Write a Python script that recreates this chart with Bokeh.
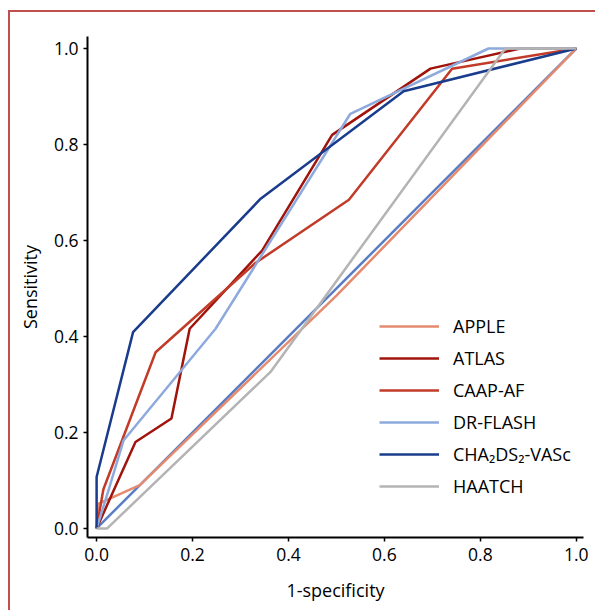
from bokeh.plotting import figure
from bokeh.models import Range1d, FixedTicker, Legend, LegendItem
from bokeh.embed import file_html
from bokeh.resources import INLINE

# ---- data ----
ref_x = [0.0, 1.0]
ref_y = [0.0, 1.0]

apple_x = [0.0, 0.003, 0.09, 0.50, 1.0]
apple_y = [0.0, 0.051, 0.09, 0.485, 1.0]

atlas_x = [0.0, 0.081, 0.156, 0.194, 0.345, 0.491, 0.696, 0.883, 1.0]
atlas_y = [0.0, 0.180, 0.229, 0.416, 0.579, 0.820, 0.958, 1.0, 1.0]

caap_x = [0.0, 0.014, 0.123, 0.331, 0.526, 0.741, 1.0]
caap_y = [0.0, 0.081, 0.367, 0.553, 0.685, 0.958, 1.0]

drflash_x = [0.0, 0.025, 0.056, 0.248, 0.529, 0.817, 1.0]
drflash_y = [0.0, 0.080, 0.183, 0.416, 0.864, 1.0, 1.0]

cha_x = [0.0, 0.0, 0.076, 0.342, 0.640, 1.0]
cha_y = [0.0, 0.107, 0.409, 0.687, 0.911, 1.0]

haatch_x = [0.0, 0.022, 0.3625, 0.852, 1.0]
haatch_y = [0.0, 0.0, 0.326, 1.0, 1.0]

tick_vals = [0.0, 0.2, 0.4, 0.6, 0.8, 1.0]
tick_labels = ["0.0", "0.2", "0.4", "0.6", "0.8", "1.0"]

series_names = ["APPLE", "ATLAS", "CAAP-AF", "DR-FLASH", "CHA\u2082DS\u2082-VASc", "HAATCH"]
series_colors = ["#e58a6f", "#a0140c", "#c23b28", "#8eaadc", "#1a3c8c", "#b4b4b4"]
series_x = [apple_x, atlas_x, caap_x, drflash_x, cha_x, haatch_x]
series_y = [apple_y, atlas_y, caap_y, drflash_y, cha_y, haatch_y]

FONT = "Open Sans"

p = figure(width=587, height=600, output_backend="svg", toolbar_location=None,
           x_range=Range1d(-0.019, 1.015), y_range=Range1d(-0.019, 1.025),
           min_border_left=77, min_border_right=14, min_border_top=24, min_border_bottom=75)

p.styles = {"border-left": "2px solid #c0504d", "border-top": "2px solid #c0504d",
            "margin-top": "10px", "margin-left": "8px"}

p.outline_line_color = None
p.xgrid.grid_line_color = None
p.ygrid.grid_line_color = None
p.background_fill_color = "white"
p.border_fill_color = "white"

for ax in (p.xaxis[0], p.yaxis[0]):
    ax.ticker = FixedTicker(ticks=tick_vals)
    ax.major_label_overrides = {v: l for v, l in zip(tick_vals, tick_labels)}
    ax.minor_tick_line_color = None
    ax.major_tick_in = 0
    ax.major_tick_out = 4
    ax.major_tick_line_width = 1.5
    ax.axis_line_width = 2
    ax.axis_line_color = "black"
    ax.major_tick_line_color = "black"
    ax.major_label_text_font = FONT
    ax.major_label_text_font_size = "17.5px"
    ax.major_label_text_color = "black"
    ax.axis_label_text_font = FONT
    ax.axis_label_text_font_size = "18px"
    ax.axis_label_text_font_style = "normal"
    ax.axis_label_text_color = "black"

p.xaxis.axis_label = "1-specificity"
p.yaxis.axis_label = "Sensitivity"
p.xaxis.major_label_standoff = 6
p.yaxis.major_label_standoff = 5
p.xaxis.axis_label_standoff = 14
p.yaxis.axis_label_standoff = 9

p.line(ref_x, ref_y, line_color="#5a7dc3", line_width=2.5)

items = []
for name, col, xs, ys in zip(series_names, series_colors, series_x, series_y):
    r = p.line(xs, ys, line_color=col, line_width=2.5)
    items.append(LegendItem(label=name, renderers=[r]))

legend = Legend(items=items, location=(292, 39), glyph_width=60, glyph_height=20,
                label_height=20, spacing=8, label_standoff=14, padding=0, margin=0,
                border_line_alpha=0, background_fill_alpha=0,
                label_text_font=FONT, label_text_font_size="18px", label_text_color="black")
p.add_layout(legend)

open("out.html", "w").write(file_html(p, INLINE))
